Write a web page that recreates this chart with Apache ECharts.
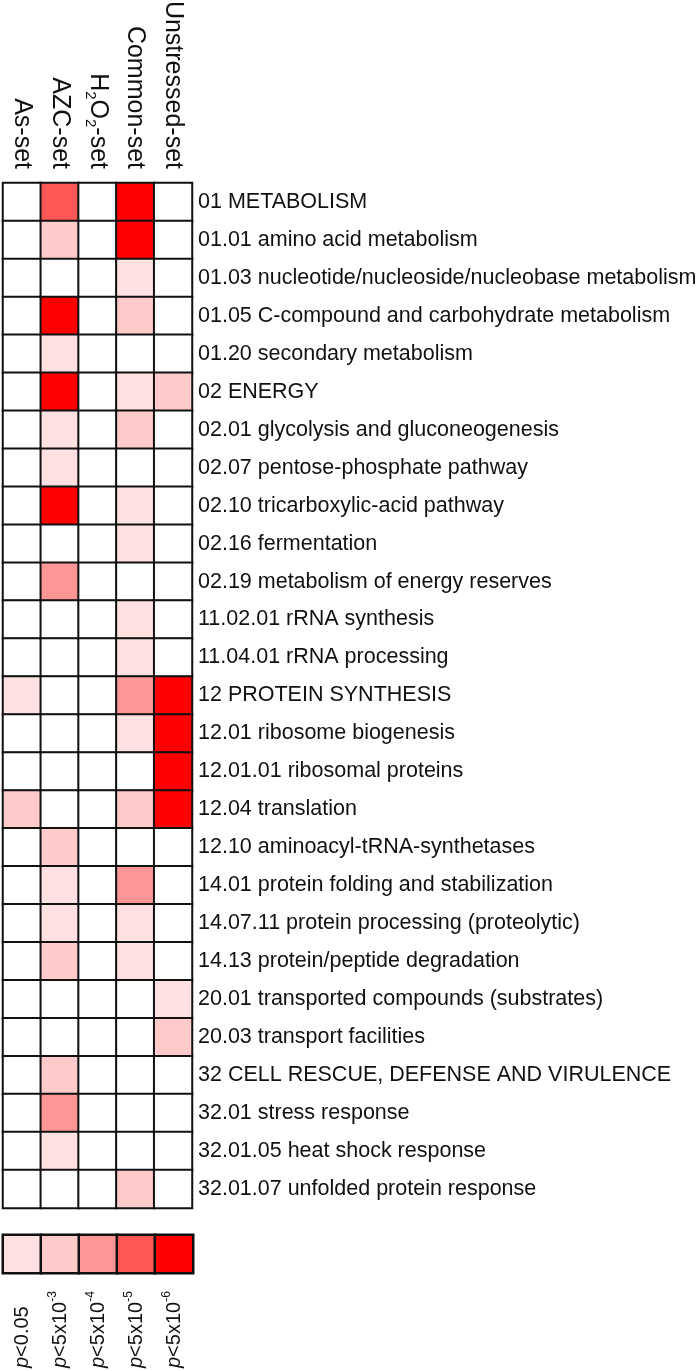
<!DOCTYPE html>
<html><head><meta charset="utf-8">
<script src="https://cdn.jsdelivr.net/npm/echarts@6/dist/echarts.min.js"></script>
<style>html,body{margin:0;padding:0;background:#fff}#c{width:697px;height:1371px}</style>
</head><body><div id="c"></div>
<script>
// ---- data ----
const columns = ['As-set', 'AZC-set', 'H2O2-set', 'Common-set', 'Unstressed-set'];
const categories = [
  '01 METABOLISM',
  '01.01 amino acid metabolism',
  '01.03 nucleotide/nucleoside/nucleobase metabolism',
  '01.05 C-compound and carbohydrate metabolism',
  '01.20 secondary metabolism',
  '02 ENERGY',
  '02.01 glycolysis and gluconeogenesis',
  '02.07 pentose-phosphate pathway',
  '02.10 tricarboxylic-acid pathway',
  '02.16 fermentation',
  '02.19 metabolism of energy reserves',
  '11.02.01 rRNA synthesis',
  '11.04.01 rRNA processing',
  '12 PROTEIN SYNTHESIS',
  '12.01 ribosome biogenesis',
  '12.01.01 ribosomal proteins',
  '12.04 translation',
  '12.10 aminoacyl-tRNA-synthetases',
  '14.01 protein folding and stabilization',
  '14.07.11 protein processing (proteolytic)',
  '14.13 protein/peptide degradation',
  '20.01 transported compounds (substrates)',
  '20.03 transport facilities',
  '32 CELL RESCUE, DEFENSE AND VIRULENCE',
  '32.01 stress response',
  '32.01.05 heat shock response',
  '32.01.07 unfolded protein response'
];
// significance level per category (0 = not significant, 1..5 = legend classes)
const asSet         = [0,0,0,0,0,0,0,0,0,0,0,0,0,1,0,0,2,0,0,0,0,0,0,0,0,0,0];
const azcSet        = [4,2,0,5,1,5,1,1,5,0,3,0,0,0,0,0,0,2,1,1,2,0,0,2,3,1,0];
const h2o2Set       = [0,0,0,0,0,0,0,0,0,0,0,0,0,0,0,0,0,0,0,0,0,0,0,0,0,0,0];
const commonSet     = [5,5,1,2,0,1,2,0,1,1,0,1,1,3,1,0,2,0,3,1,1,0,0,0,0,0,2];
const unstressedSet = [0,0,0,0,0,2,0,0,0,0,0,0,0,5,5,5,5,0,0,0,0,1,2,0,0,0,0];
const legendLevels  = [1, 2, 3, 4, 5];
const legendLabels  = ['p<0.05', 'p<5x10-3', 'p<5x10-4', 'p<5x10-5', 'p<5x10-6'];

// ---- styling ----
const levelColors = ['#ffffff', '#ffe1e1', '#ffcaca', '#ff9696', '#ff5656', '#ff0000'];
const FONT = 'Liberation Sans, Arial, sans-serif';
const INK = '#111111';

const seriesCols = [asSet, azcSet, h2o2Set, commonSet, unstressedSet];
const mainData = [];
seriesCols.forEach((col, ci) => col.forEach((v, ri) => mainData.push([ci, ri, v])));
const legendData = legendLevels.map((v, i) => [i, 0, v]);

function headerFmt(s) {
  if (s === 'H2O2-set') return '{n|H}{s|2}{n|O}{s|2}{n|-set}';
  return '{n|' + s + '}';
}
function legendFmt(s) {
  const m = s.match(/^p(.*?10)(-\d)$/);
  if (m) return '{i|p}{n|' + m[1] + '}{s|' + m[2] + '}';
  return '{i|p}{n|' + s.slice(1) + '}';
}

const chart = echarts.init(document.getElementById('c'), null, {renderer: 'canvas'});
chart.setOption({
  backgroundColor: '#ffffff',
  animation: false,
  textStyle: {fontFamily: FONT},
  grid: [
    {left: 3, top: 183, width: 189, height: 1025, outerBoundsMode: 'none', containLabel: false},
    {left: 3, top: 1235, width: 190, height: 38, outerBoundsMode: 'none', containLabel: false}
  ],
  xAxis: [
    {
      type: 'category', gridIndex: 0, data: columns, position: 'top',
      axisLine: {show: false}, axisTick: {show: false}, splitLine: {show: false},
      axisLabel: {
        interval: 0, rotate: 90, margin: 14, color: INK, fontFamily: FONT,
        formatter: headerFmt,
        rich: {
          n: {fontSize: 25, lineHeight: 30, color: INK, fontFamily: FONT},
          s: {fontSize: 15, lineHeight: 15, color: INK, fontFamily: FONT, verticalAlign: 'bottom'}
        }
      }
    },
    {
      type: 'category', gridIndex: 1, data: legendLabels, position: 'bottom',
      axisLine: {show: false}, axisTick: {show: false}, splitLine: {show: false},
      axisLabel: {
        interval: 0, rotate: 90, margin: 95, align: 'left', verticalAlign: 'middle',
        color: INK, fontFamily: FONT, formatter: legendFmt,
        rich: {
          i: {fontSize: 20, lineHeight: 26, fontStyle: 'italic', color: INK, fontFamily: FONT},
          n: {fontSize: 20, lineHeight: 26, color: INK, fontFamily: FONT},
          s: {fontSize: 12, lineHeight: 12, color: INK, fontFamily: FONT, verticalAlign: 'top'}
        }
      }
    }
  ],
  yAxis: [
    {
      type: 'category', gridIndex: 0, data: categories, inverse: true, position: 'right',
      axisLine: {show: false}, axisTick: {show: false}, splitLine: {show: false},
      axisLabel: {interval: 0, margin: 6, fontSize: 21.5, color: INK, fontFamily: FONT, align: 'left'}
    },
    {
      type: 'category', gridIndex: 1, data: [''],
      axisLine: {show: false}, axisTick: {show: false}, splitLine: {show: false},
      axisLabel: {show: false}
    }
  ],
  visualMap: {
    type: 'piecewise', show: false, dimension: 2, seriesIndex: [0, 1],
    pieces: levelColors.map((c, i) => ({value: i, color: c}))
  },
  series: [
    {
      type: 'heatmap', xAxisIndex: 0, yAxisIndex: 0, data: mainData,
      itemStyle: {borderColor: INK, borderWidth: 2},
      emphasis: {disabled: true}, silent: true
    },
    {
      type: 'heatmap', xAxisIndex: 1, yAxisIndex: 1, data: legendData,
      itemStyle: {borderColor: INK, borderWidth: 2.5},
      emphasis: {disabled: true}, silent: true
    }
  ]
});
</script>
</body></html>
